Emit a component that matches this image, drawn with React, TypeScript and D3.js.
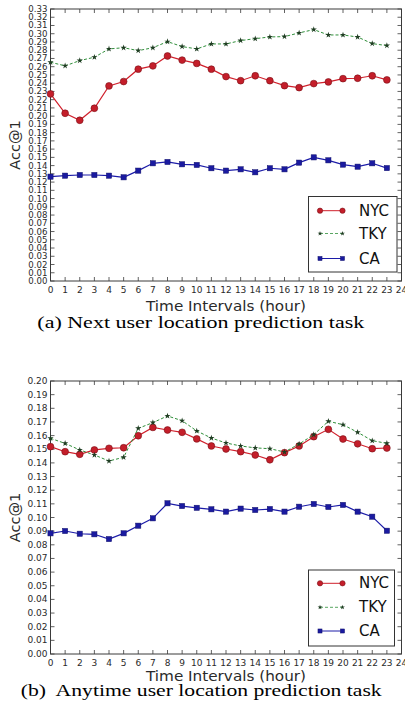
import React from "react";
import * as d3 from "d3";

const hours = d3.range(0, 24);
const xTicks = d3.range(0, 25);

// Panel (a): Next user location prediction task
const nycA = [0.227, 0.2035, 0.195, 0.2096, 0.2367, 0.242, 0.257, 0.261, 0.273, 0.268, 0.264, 0.257, 0.248, 0.243, 0.249, 0.243, 0.237, 0.2346, 0.2395, 0.2415, 0.2455, 0.246, 0.249, 0.244];
const tkyA = [0.2654, 0.261, 0.2674, 0.2715, 0.2816, 0.283, 0.2795, 0.283, 0.2904, 0.2844, 0.2816, 0.2876, 0.2876, 0.2917, 0.294, 0.2961, 0.2965, 0.301, 0.305, 0.2985, 0.2985, 0.296, 0.288, 0.2856];
const caA = [0.1266, 0.1278, 0.1286, 0.1286, 0.1278, 0.1258, 0.1339, 0.1428, 0.1444, 0.1416, 0.1408, 0.1368, 0.1339, 0.1355, 0.1319, 0.1368, 0.1355, 0.1436, 0.150, 0.1464, 0.1412, 0.1387, 0.1428, 0.137];
const yTicksA = d3.range(0, 34).map((i) => i / 100);

// Panel (b): Anytime user location prediction task
const nycB = [0.1519, 0.1482, 0.1463, 0.1495, 0.1507, 0.1511, 0.1599, 0.166, 0.1641, 0.1624, 0.1576, 0.1524, 0.1502, 0.1482, 0.1458, 0.1423, 0.1475, 0.1524, 0.1592, 0.1646, 0.1575, 0.154, 0.1504, 0.1509];
const tkyB = [0.158, 0.1543, 0.1495, 0.1458, 0.1414, 0.1441, 0.1653, 0.1695, 0.1744, 0.1709, 0.1634, 0.1582, 0.1546, 0.1524, 0.151, 0.1504, 0.148, 0.1538, 0.1607, 0.1705, 0.168, 0.1624, 0.1563, 0.1543];
const caB = [0.0884, 0.0901, 0.0881, 0.0877, 0.0842, 0.0884, 0.094, 0.0994, 0.1104, 0.1084, 0.1071, 0.106, 0.1043, 0.1065, 0.1055, 0.1062, 0.1043, 0.1079, 0.1099, 0.1077, 0.1092, 0.1043, 0.1006, 0.0903];
const yTicksB = d3.range(0, 21).map((i) => i / 100);

const seriesNames = ["NYC", "TKY", "CA"];
const captionA = "(a) Next user location prediction task";
const captionB = "(b)  Anytime user location prediction task";

const COLORS: Record<string, { line: string; fill: string; edge: string }> = {
  NYC: { line: "#d0202c", fill: "#c41e2a", edge: "#7a1018" },
  TKY: { line: "#2f8f3a", fill: "#1f3d22", edge: "#1f3d22" },
  CA: { line: "#1c1ca8", fill: "#1a1aa0", edge: "#10106a" },
};

const SANS = "'DejaVu Sans', sans-serif";
const SERIF = "'Liberation Serif', 'Times New Roman', serif";

function Marker({ name, x, y, s = 1 }: { name: string; x: number; y: number; s?: number }) {
  const c = COLORS[name];
  if (name === "NYC") return <circle cx={x} cy={y} r={3.4 * s} fill={c.fill} stroke={c.edge} strokeWidth={0.6} />;
  if (name === "CA") return <rect x={x - 2.6 * s} y={y - 2.6 * s} width={5.2 * s} height={5.2 * s} fill={c.fill} stroke={c.edge} strokeWidth={0.5} />;
  const star = d3.symbol().type(d3.symbolStar).size(12 * s * s)();
  return <path d={star || ""} transform={`translate(${x},${y})`} fill={c.fill} />;
}

type PanelProps = {
  top: number;
  bottom: number;
  yMax: number;
  yTicks: number[];
  yFont: number;
  data: Record<string, number[]>;
  legend: { x0: number; x1: number; y0: number; y1: number; rows: number[] };
  xLabelY: number;
  xTitleY: number;
  caption: string;
  captionY: number;
  captionX0: number;
  captionLen: number;
};

function Panel(p: PanelProps) {
  const left = 50.5;
  const right = 401.5;
  const x = d3.scaleLinear().domain([0, 24]).range([left, right]);
  const y = d3.scaleLinear().domain([0, p.yMax]).range([p.bottom, p.top]);
  const axisColor = "#3a3a3a";
  const textColor = "#2a2a2a";
  const tl = 4;
  const lineGen = (vals: number[]) =>
    d3.line<number>().x((_, i) => x(hours[i])).y((v) => y(v))(vals) || "";
  const midY = (p.top + p.bottom) / 2;
  return (
    <g>
      {xTicks.map((t) => (
        <g key={"xt" + t}>
          <line x1={x(t)} x2={x(t)} y1={p.bottom} y2={p.bottom - tl} stroke={axisColor} strokeWidth={0.8} />
          <line x1={x(t)} x2={x(t)} y1={p.top} y2={p.top + tl} stroke={axisColor} strokeWidth={0.8} />
          <text x={x(t)} y={p.xLabelY} fontSize={9} fontFamily={SANS} fill={textColor} textAnchor="middle" dominantBaseline="central">
            {t}
          </text>
        </g>
      ))}
      {p.yTicks.map((t) => (
        <g key={"yt" + t}>
          <line x1={left} x2={left + tl} y1={y(t)} y2={y(t)} stroke={axisColor} strokeWidth={0.8} />
          <line x1={right} x2={right - tl} y1={y(t)} y2={y(t)} stroke={axisColor} strokeWidth={0.8} />
          <text x={47.5} y={y(t)} fontSize={p.yFont} fontFamily={SANS} fill={textColor} textAnchor="end" dominantBaseline="central">
            {d3.format(".2f")(t)}
          </text>
        </g>
      ))}
      <rect x={left} y={p.top} width={right - left} height={p.bottom - p.top} fill="none" stroke={axisColor} strokeWidth={1} />
      {seriesNames.map((name) => (
        <g key={name}>
          <path
            d={lineGen(p.data[name])}
            fill="none"
            stroke={COLORS[name].line}
            strokeWidth={name === "TKY" ? 1 : 1.2}
            strokeDasharray={name === "TKY" ? "3,2" : undefined}
          />
          {p.data[name].map((v, i) => (
            <Marker key={i} name={name} x={x(hours[i])} y={y(v)} />
          ))}
        </g>
      ))}
      <rect x={p.legend.x0} y={p.legend.y0} width={p.legend.x1 - p.legend.x0} height={p.legend.y1 - p.legend.y0} fill="#fff" stroke="#333" strokeWidth={1} />
      {seriesNames.map((name, i) => {
        const ry = p.legend.rows[i];
        return (
          <g key={"lg" + name}>
            <line x1={320} x2={342.5} y1={ry} y2={ry} stroke={COLORS[name].line} strokeWidth={name === "TKY" ? 0.8 : 1} strokeDasharray={name === "TKY" ? "3,2" : undefined} />
            <Marker name={name} x={320} y={ry} s={0.78} />
            <Marker name={name} x={342.5} y={ry} s={0.78} />
            <text x={359} y={ry} fontSize={15} fontFamily={SANS} fill="#111" dominantBaseline="central">
              {name}
            </text>
          </g>
        );
      })}
      <text x={(left + right) / 2} y={p.xTitleY} fontSize={13.5} fontFamily={SANS} fill={textColor} textAnchor="middle" textLength={160} lengthAdjust="spacingAndGlyphs">
        Time Intervals (hour)
      </text>
      <text transform={`translate(19.5,${midY}) rotate(-90)`} fontSize={14.5} fontFamily={SANS} fill={textColor} textAnchor="middle">
        Acc@1
      </text>
      <text x={p.captionX0} y={p.captionY} fontSize={17.5} fontFamily={SERIF} fill="#000" textLength={p.captionLen} lengthAdjust="spacingAndGlyphs" xmlSpace="preserve">
        {p.caption}
      </text>
    </g>
  );
}

export default function App() {
  return (
    <svg width={405} height={711} style={{ position: "absolute", left: 0, top: 0, background: "#fff" }}>
      <rect width={405} height={711} fill="#fff" />
      <Panel
        top={9}
        bottom={281}
        yMax={0.33}
        yTicks={yTicksA}
        yFont={8.6}
        data={{ NYC: nycA, TKY: tkyA, CA: caA }}
        legend={{ x0: 308.5, x1: 397, y0: 196.5, y1: 272, rows: [210.7, 233.5, 258.5] }}
        xLabelY={289.5}
        xTitleY={310.5}
        caption={captionA}
        captionY={328.3}
        captionX0={37.3}
        captionLen={327}
      />
      <Panel
        top={381}
        bottom={654}
        yMax={0.2}
        yTicks={yTicksB}
        yFont={9}
        data={{ NYC: nycB, TKY: tkyB, CA: caB }}
        legend={{ x0: 308.5, x1: 394.5, y0: 570, y1: 646, rows: [583.3, 607.3, 631] }}
        xLabelY={663}
        xTitleY={680.7}
        caption={captionB}
        captionY={696}
        captionX0={20.7}
        captionLen={361}
      />
    </svg>
  );
}
